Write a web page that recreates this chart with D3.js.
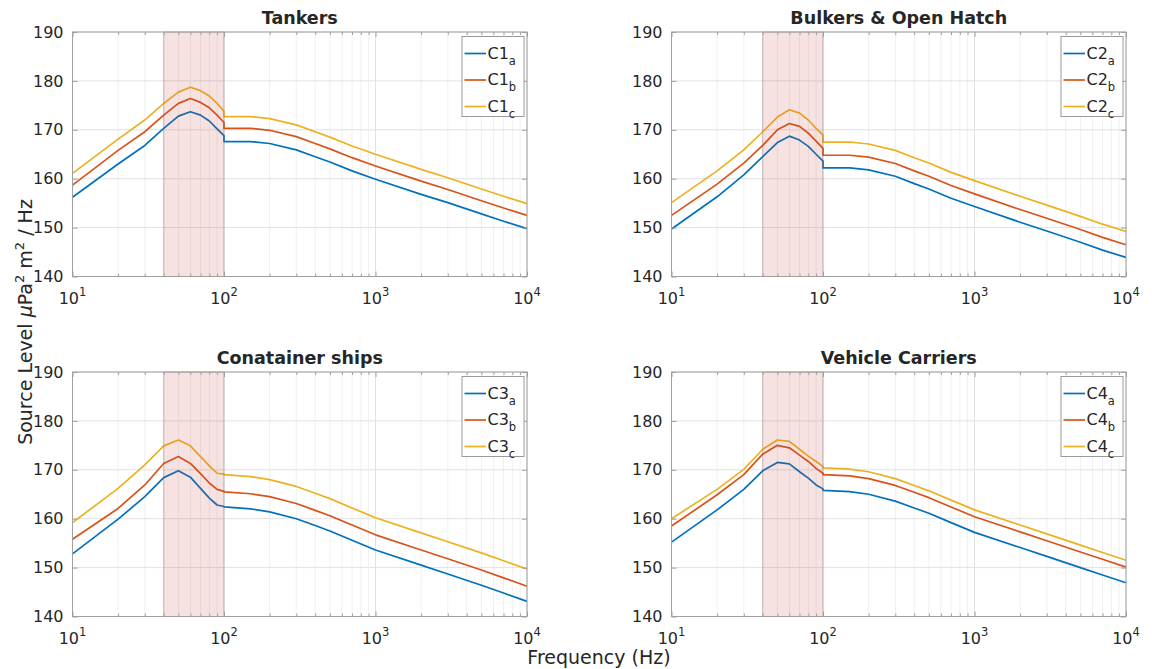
<!DOCTYPE html>
<html>
<head>
<meta charset="utf-8">
<script src="https://cdn.jsdelivr.net/npm/d3@7"></script>
<style>
  body { margin: 0; background: #fff; }
  text { font-family: "DejaVu Sans", sans-serif; fill: #262626; }
</style>
</head>
<body>
<div id="viz"></div>
<script>

// frequency points (Hz) - 100 is there twice because the curves step down at 100 Hz
let freqs = [10, 20, 30, 40, 50, 60, 70, 80, 90, 100, 100, 150, 200, 300, 400, 500, 700, 1000, 2000, 3000, 5000, 7000, 10000];

// Tankers
let c1a = [156.2, 163.0, 166.8, 170.3, 172.8, 173.7, 173.0, 171.8, 170.2, 168.8, 167.6, 167.6, 167.2, 165.9, 164.5, 163.4, 161.6, 159.9, 156.8, 155.1, 152.8, 151.3, 149.8];
let c1b = [158.7, 165.8, 169.6, 173.0, 175.4, 176.4, 175.6, 174.5, 173.0, 171.5, 170.3, 170.3, 169.9, 168.6, 167.2, 166.1, 164.3, 162.6, 159.5, 157.8, 155.5, 154.0, 152.5];
let c1c = [161.1, 168.1, 172.0, 175.4, 177.7, 178.7, 178.0, 176.9, 175.4, 173.8, 172.7, 172.7, 172.3, 171.0, 169.6, 168.5, 166.7, 165.0, 161.9, 160.2, 157.9, 156.4, 154.9];

// Bulkers & open hatch
let c2a = [149.7, 156.3, 160.8, 164.5, 167.4, 168.7, 167.9, 166.6, 165.0, 163.6, 162.2, 162.2, 161.8, 160.5, 159.0, 157.9, 156.0, 154.3, 151.1, 149.3, 147.0, 145.4, 143.9];
let c2b = [152.5, 158.9, 163.2, 166.8, 170.0, 171.3, 170.7, 169.3, 167.7, 166.2, 164.8, 164.8, 164.4, 163.1, 161.6, 160.5, 158.6, 156.9, 153.7, 151.9, 149.6, 148.0, 146.5];
let c2c = [155.1, 161.6, 165.9, 169.6, 172.6, 174.1, 173.4, 172.0, 170.3, 168.9, 167.5, 167.5, 167.1, 165.8, 164.3, 163.2, 161.3, 159.6, 156.4, 154.6, 152.3, 150.7, 149.2];

// Container ships
let c3a = [152.8, 159.9, 164.5, 168.4, 169.8, 168.5, 166.2, 164.2, 162.8, 162.5, 162.4, 162.0, 161.4, 160.0, 158.6, 157.5, 155.6, 153.6, 150.5, 148.7, 146.4, 144.8, 143.1];
let c3b = [155.8, 162.1, 166.9, 171.3, 172.7, 171.3, 169.2, 167.3, 166.0, 165.6, 165.5, 165.1, 164.5, 163.1, 161.7, 160.6, 158.7, 156.7, 153.6, 151.8, 149.5, 147.9, 146.2];
let c3c = [159.2, 166.2, 171.0, 174.9, 176.1, 174.9, 172.7, 170.8, 169.3, 169.1, 169.0, 168.6, 168.0, 166.6, 165.2, 164.1, 162.2, 160.2, 157.1, 155.3, 153.0, 151.4, 149.7];

// Vehicle carriers
let c4a = [155.2, 161.8, 166.0, 169.8, 171.5, 171.2, 169.6, 168.3, 166.9, 166.1, 165.8, 165.55, 165.0, 163.6, 162.2, 161.1, 159.2, 157.2, 154.1, 152.3, 150.0, 148.5, 146.9];
let c4b = [158.5, 164.9, 169.0, 173.2, 175.0, 174.5, 173.0, 171.7, 170.3, 169.3, 169.0, 168.75, 168.2, 166.8, 165.4, 164.3, 162.4, 160.4, 157.3, 155.5, 153.2, 151.7, 150.1];
let c4c = [160.0, 166.0, 170.1, 174.2, 176.1, 175.8, 174.2, 172.8, 171.7, 170.7, 170.4, 170.15, 169.6, 168.2, 166.8, 165.7, 163.8, 161.8, 158.7, 156.9, 154.6, 153.1, 151.5];

let titles = ["Tankers", "Bulkers & Open Hatch", "Conatainer ships", "Vehicle Carriers"];
let legendNames = ["C1", "C2", "C3", "C4"];
let subs = ["a", "b", "c"];
let yTicks = [140, 150, 160, 170, 180, 190];
let xTicks = [10, 100, 1000, 10000];
let band = [40, 100];

let colors = ["#0072BD", "#D95319", "#EDB120"];

let pw = 454.5;
let ph = 244.5;

let panels = [
  { title: titles[0], name: legendNames[0], series: [c1a, c1b, c1c], left: 72.5, top: 32 },
  { title: titles[1], name: legendNames[1], series: [c2a, c2b, c2c], left: 671.5, top: 32 },
  { title: titles[2], name: legendNames[2], series: [c3a, c3b, c3c], left: 72.5, top: 372 },
  { title: titles[3], name: legendNames[3], series: [c4a, c4b, c4c], left: 671.5, top: 372 }
];

let svg = d3.select("#viz").append("svg")
  .attr("width", 1155)
  .attr("height", 669);

panels.forEach(p => {

  let g = svg.append("g").attr("transform", `translate(${p.left},${p.top})`);

  let xScale = d3.scaleLog().domain([10, 10000]).range([0, pw]);
  let yScale = d3.scaleLinear().domain([140, 190]).range([ph, 0]);

  let minor = xScale.ticks().filter(t => !xTicks.includes(t));

  // grid
  g.append("g").selectAll("line")
    .data(minor)
    .enter().append("line")
    .attr("x1", d => xScale(d)).attr("x2", d => xScale(d))
    .attr("y1", 0).attr("y2", ph)
    .attr("stroke", "#f0f0f0");

  g.append("g").selectAll("line")
    .data(xTicks)
    .enter().append("line")
    .attr("x1", d => xScale(d)).attr("x2", d => xScale(d))
    .attr("y1", 0).attr("y2", ph)
    .attr("stroke", "#e2e2e2");

  g.append("g").selectAll("line")
    .data(yTicks)
    .enter().append("line")
    .attr("x1", 0).attr("x2", pw)
    .attr("y1", d => yScale(d)).attr("y2", d => yScale(d))
    .attr("stroke", "#e2e2e2");

  // curves
  let line = d3.line()
    .x(d => xScale(d[0]))
    .y(d => yScale(d[1]));

  p.series.forEach((s, i) => {
    g.append("path")
      .datum(d3.zip(freqs, s))
      .attr("fill", "none")
      .attr("stroke", colors[i])
      .attr("stroke-width", 1.7)
      .attr("stroke-linejoin", "round")
      .attr("d", line);
  });

  // shaded band, drawn over the lines
  g.append("rect")
    .attr("x", xScale(band[0]))
    .attr("y", 0)
    .attr("width", xScale(band[1]) - xScale(band[0]))
    .attr("height", ph)
    .attr("fill", "rgb(200,60,60)")
    .attr("fill-opacity", 0.15)
    .attr("stroke", "rgb(120,90,90)")
    .attr("stroke-opacity", 0.35)
    .attr("stroke-width", 1);

  // inward ticks on all four sides
  let tickColor = "#a0a0a0";
  let axes = [
    g.append("g").attr("transform", `translate(0,${ph})`).call(d3.axisBottom(xScale).tickValues(xTicks).tickSize(-5).tickFormat("")),
    g.append("g").attr("transform", `translate(0,${ph})`).call(d3.axisBottom(xScale).tickValues(minor).tickSize(-3).tickFormat("")),
    g.append("g").call(d3.axisTop(xScale).tickValues(xTicks).tickSize(-5).tickFormat("")),
    g.append("g").call(d3.axisTop(xScale).tickValues(minor).tickSize(-3).tickFormat("")),
    g.append("g").attr("transform", `translate(${pw},0)`).call(d3.axisRight(yScale).tickValues(yTicks).tickSize(-5).tickFormat("")),
    g.append("g").call(d3.axisLeft(yScale).tickValues(yTicks).tickSize(-5).tickPadding(9))
  ];
  axes.forEach(a => {
    a.select(".domain").remove();
    a.selectAll("line").attr("stroke", tickColor);
    a.selectAll("text")
      .style("font-size", "16px")
      .attr("fill", "#262626");
  });

  // box
  g.append("rect")
    .attr("width", pw).attr("height", ph)
    .attr("fill", "none")
    .attr("stroke", tickColor)
    .attr("stroke-width", 1);

  // x tick labels 10^n
  let xl = g.append("g").selectAll("text")
    .data(xTicks)
    .enter().append("text")
    .attr("x", d => xScale(d))
    .attr("y", ph + 27)
    .attr("text-anchor", "middle")
    .style("font-size", "16px");
  xl.append("tspan").text("10");
  xl.append("tspan")
    .attr("dy", -8)
    .style("font-size", "11.5px")
    .text(d => Math.round(Math.log10(d)));

  // title
  g.append("text")
    .attr("x", pw / 2)
    .attr("y", -8)
    .attr("text-anchor", "middle")
    .style("font-size", "17.5px")
    .style("font-weight", "bold")
    .attr("fill", "#000")
    .text(p.title);

  // legend
  let lw = 62, lh = 80;
  let leg = g.append("g").attr("transform", `translate(${pw - lw - 3},${4.5})`);
  leg.append("rect")
    .attr("width", lw).attr("height", lh)
    .attr("fill", "#fff")
    .attr("stroke", "#9a9a9a")
    .attr("stroke-width", 1);
  subs.forEach((s, i) => {
    let ly = 17 + i * 26.5;
    leg.append("line")
      .attr("x1", 2.5).attr("x2", 24)
      .attr("y1", ly).attr("y2", ly)
      .attr("stroke", colors[i])
      .attr("stroke-width", 1.7);
    let t = leg.append("text")
      .attr("x", 25.5)
      .attr("y", ly + 5)
      .style("font-size", "16px");
    t.append("tspan").text(p.name);
    t.append("tspan")
      .attr("dy", 6)
      .style("font-size", "11.5px")
      .text(s);
  });
});

// shared axis labels
let yl = svg.append("text")
  .attr("transform", "translate(32,322) rotate(-90)")
  .attr("text-anchor", "middle")
  .style("font-size", "19px");
yl.append("tspan").text("Source Level ");
yl.append("tspan").style("font-style", "italic").text("\u03bc");
yl.append("tspan").text("Pa");
yl.append("tspan").attr("dy", -8).style("font-size", "13px").text("2");
yl.append("tspan").attr("dy", 8).text(" m");
yl.append("tspan").attr("dy", -8).style("font-size", "13px").text("2");
yl.append("tspan").attr("dy", 8).text(" / Hz");

svg.append("text")
  .attr("x", 599)
  .attr("y", 664)
  .attr("text-anchor", "middle")
  .style("font-size", "19px")
  .text("Frequency (Hz)");

</script>
</body>
</html>
